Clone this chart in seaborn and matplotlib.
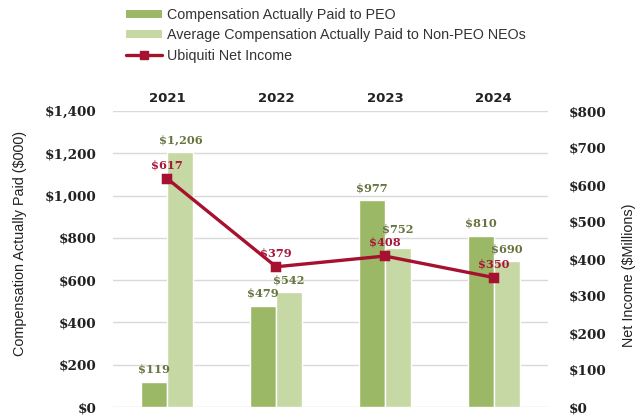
import matplotlib
matplotlib.use("Agg")
import matplotlib.pyplot as plt
import seaborn as sns
import pandas as pd
from matplotlib.patches import Patch
from matplotlib.lines import Line2D

years = ["2021", "2022", "2023", "2024"]
peo_cap = [119, 479, 977, 810]
non_peo_cap = [1206, 542, 752, 690]
net_income = [617, 379, 408, 350]
series_names = ["Compensation Actually Paid to PEO",
                "Average Compensation Actually Paid to Non-PEO NEOs"]
line_name = "Ubiquiti Net Income"

C_PEO = "#9BB866"
C_NON = "#C6D8A3"
C_LINE = "#A6112F"
C_BARTXT = "#66743F"
C_LINETXT = "#A8163A"

sns.set_theme(style="white")
plt.rcParams["font.family"] = ["DejaVu Sans"]

df = pd.DataFrame({
    "year": years * 2,
    "value": peo_cap + non_peo_cap,
    "series": [series_names[0]] * 4 + [series_names[1]] * 4,
})

fig = plt.figure(figsize=(6.37, 4.19), dpi=100)
ax = fig.add_axes([113 / 637, 1 - 407 / 419, 435 / 637, 296 / 419])

sns.barplot(data=df, x="year", y="value", hue="series", order=years,
            hue_order=series_names, palette=[C_PEO, C_NON], width=0.48,
            saturation=1, ax=ax, legend=False, zorder=2)

TICKFONT = dict(family="DejaVu Serif", fontweight="bold", fontsize=9.7, color="#222222")
LABFONT = dict(family=["Liberation Sans", "DejaVu Sans"], fontsize=10.4, color="#222222")

ax.set_ylim(0, 1400)
ax.set_yticks(range(0, 1401, 200))
ax.set_yticklabels([f"${v:,}" for v in range(0, 1401, 200)], **TICKFONT)
ax.set_xlim(-0.5, 3.5)
ax.grid(axis="y", color="#D9D9D9", linewidth=1, zorder=0)
ax.set_axisbelow(True)
ax.tick_params(axis="y", length=0, pad=12)
ax.tick_params(axis="x", length=0, pad=4, top=False, bottom=False,
               labeltop=True, labelbottom=False)
ax.set_xlabel("")
ax.set_ylabel("Compensation Actually Paid ($000)", **LABFONT)
ax.yaxis.set_label_coords(-0.198, 0.551)
for s in ax.spines.values():
    s.set_visible(False)

# bar value labels (extra lift for one label that would otherwise collide)
lift = {(1, 2): 5}
for h, (cont, vals) in enumerate(zip(ax.containers, [peo_cap, non_peo_cap])):
    for i, (rect, v) in enumerate(zip(cont, vals)):
        ax.annotate(f"${v:,}", (rect.get_x() + rect.get_width() / 2, rect.get_height()),
                    xytext=(0, 9 + lift.get((h, i), 0)), textcoords="offset points",
                    ha="center", va="center",
                    family="DejaVu Serif", fontweight="bold", fontsize=8.2, color=C_BARTXT)

ax2 = ax.twinx()
ldf = pd.DataFrame({"year": years, "income": net_income})
sns.pointplot(data=ldf, x="year", y="income", order=years, color=C_LINE,
              markers="s", markersize=6, linewidth=2.4, ax=ax2, zorder=5)
ax2.set_xlim(-0.5, 3.5)
ax2.set_ylim(0, 800)
ax2.set_yticks(range(0, 801, 100))
ax2.set_yticklabels([f"${v:,}" for v in range(0, 801, 100)], **TICKFONT)
ax2.tick_params(axis="y", length=0, pad=15)
ax2.tick_params(axis="x", length=0, top=False, bottom=False, labeltop=False, labelbottom=False)
ax2.grid(False)
ax2.set_xlabel("")
ax2.set_ylabel("Net Income ($Millions)", **LABFONT)
ax2.yaxis.set_label_coords(1.170, 0.446)
for s in ax2.spines.values():
    s.set_visible(False)
for i, v in enumerate(net_income):
    ax2.annotate(f"${v:,}", (i, v), xytext=(0, 10), textcoords="offset points",
                 ha="center", va="center", family="DejaVu Serif", fontweight="bold",
                 fontsize=8.2, color=C_LINETXT)

ax.tick_params(axis="x", labeltop=True, labelbottom=False)
for lab in ax.get_xticklabels():
    lab.set_fontweight("bold")
    lab.set_fontsize(9.5)
    lab.set_color("#222222")

handles = [Patch(facecolor=C_PEO, edgecolor="none"),
           Patch(facecolor=C_NON, edgecolor="none"),
           Line2D([], [], color=C_LINE, linewidth=2.4, marker="s", markersize=6)]
fig.legend(handles, series_names + [line_name], loc="upper left",
           bbox_to_anchor=(113 / 637, 1.012), frameon=False,
           prop={"family": "Liberation Sans", "size": 10.3},
           handlelength=2.5, handleheight=0.45, handletextpad=0.35, labelspacing=0.45,
           labelcolor="#333333")

fig.savefig("out.png", dpi=100)
